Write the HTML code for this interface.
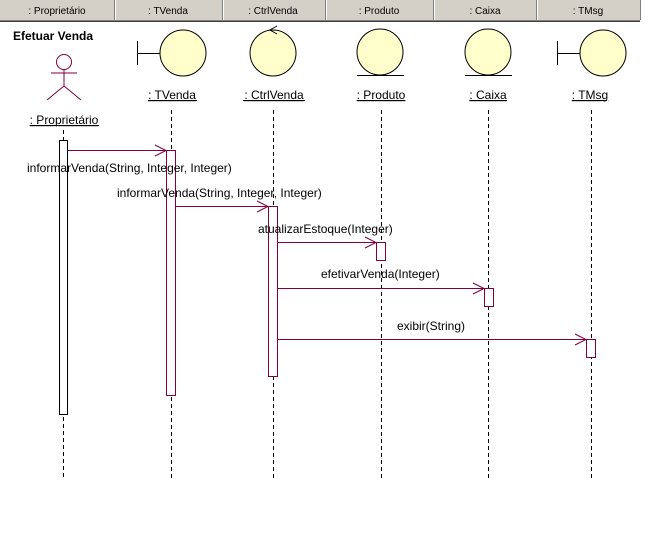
<!DOCTYPE html>
<html><head><meta charset="utf-8"><style>
html,body{margin:0;padding:0;background:#fff;width:668px;height:540px;overflow:hidden}
svg{display:block}
text{font-family:"Liberation Sans",Arial,sans-serif}
</style></head><body>
<svg width="668" height="540" viewBox="0 0 668 540" xmlns="http://www.w3.org/2000/svg">
<!-- header tabs -->
<rect x="0" y="0" width="640" height="20" fill="#d4d0c8"/>
<line x1="0" y1="20.5" x2="640" y2="20.5" stroke="#808080"/>
<line x1="0" y1="21.5" x2="640" y2="21.5" stroke="#404040"/>
<g stroke="#808080">
<line x1="114.5" y1="0" x2="114.5" y2="20"/><line x1="222.5" y1="0" x2="222.5" y2="20"/>
<line x1="325.5" y1="0" x2="325.5" y2="20"/><line x1="433.5" y1="0" x2="433.5" y2="20"/>
<line x1="536.5" y1="0" x2="536.5" y2="20"/><line x1="640.5" y1="0" x2="640.5" y2="20"/>
</g>
<g stroke="#fff"><line x1="115.5" y1="0" x2="115.5" y2="20"/><line x1="223.5" y1="0" x2="223.5" y2="20"/><line x1="326.5" y1="0" x2="326.5" y2="20"/><line x1="434.5" y1="0" x2="434.5" y2="20"/><line x1="537.5" y1="0" x2="537.5" y2="20"/></g>
<g font-size="10" fill="#000" text-anchor="middle">
<text x="57" y="14">: Proprietário</text><text x="168" y="14">: TVenda</text>
<text x="273" y="14">: CtrlVenda</text><text x="379" y="14">: Produto</text>
<text x="485" y="14">: Caixa</text><text x="588" y="14">: TMsg</text>
</g>
<text x="13" y="40" font-size="12" font-weight="bold">Efetuar Venda</text>
<!-- actor -->
<g stroke="#800040" fill="none" stroke-width="1">
<circle cx="64" cy="62" r="7.5"/>
<line x1="64" y1="70" x2="64" y2="86"/><line x1="51" y1="73" x2="77" y2="73"/>
<line x1="64" y1="86" x2="47" y2="100"/><line x1="64" y1="86" x2="81" y2="100"/>
</g>
<!-- objects -->
<g stroke="#000" fill="#ffffcc">
<line x1="137.5" y1="41" x2="137.5" y2="65" fill="none"/><line x1="137" y1="53.5" x2="160" y2="53.5"/>
<circle cx="183" cy="53" r="23"/>
<circle cx="273" cy="53" r="23"/>
<polyline points="277,26 270,30 277,34" fill="none"/>
<circle cx="380" cy="52" r="23"/>
<line x1="357" y1="75.5" x2="404" y2="75.5"/>
<circle cx="488" cy="52" r="23"/>
<line x1="465" y1="75.5" x2="512" y2="75.5"/>
<line x1="557.5" y1="41" x2="557.5" y2="65" fill="none"/><line x1="557" y1="53.5" x2="580" y2="53.5"/>
<circle cx="603" cy="53" r="23"/>
</g>
<g font-size="12" fill="#000" text-anchor="middle" text-decoration="underline">
<text x="64" y="124">: Proprietário</text><text x="172" y="99">: TVenda</text>
<text x="274" y="99">: CtrlVenda</text><text x="381" y="99">: Produto</text>
<text x="488" y="99">: Caixa</text><text x="590" y="99">: TMsg</text>
</g>
<g stroke="#000" fill="none"><line x1="30" y1="125.5" x2="99" y2="125.5"/><line x1="148" y1="100.5" x2="197" y2="100.5"/><line x1="243" y1="100.5" x2="305" y2="100.5"/><line x1="357" y1="100.5" x2="405" y2="100.5"/><line x1="470" y1="100.5" x2="507" y2="100.5"/><line x1="573" y1="100.5" x2="607" y2="100.5"/></g>
<!-- lifelines -->
<g stroke="#000" stroke-dasharray="4,3">
<line x1="63.5" y1="130" x2="63.5" y2="478"/><line x1="171.5" y1="110" x2="171.5" y2="478"/>
<line x1="273.5" y1="110" x2="273.5" y2="478"/><line x1="381.5" y1="110" x2="381.5" y2="478"/>
<line x1="488.5" y1="110" x2="488.5" y2="478"/><line x1="591.5" y1="110" x2="591.5" y2="478"/>
</g>
<!-- activations -->
<rect x="59.5" y="140.5" width="8" height="274" fill="#fff" stroke="#000"/>
<g fill="#fff" stroke="#800040">
<rect x="166.5" y="150.5" width="9" height="245"/>
<rect x="268.5" y="206.5" width="9" height="170"/>
<rect x="376.5" y="242.5" width="9" height="18"/>
<rect x="484.5" y="288.5" width="9" height="18"/>
<rect x="586.5" y="339.5" width="9" height="18"/>
</g>
<!-- messages -->
<g stroke="#800040" fill="none">
<line x1="68" y1="150.5" x2="166" y2="150.5"/><polyline points="155,145 166,150.5 155,156"/>
<line x1="176" y1="206.5" x2="268" y2="206.5"/><polyline points="257,201 268,206.5 257,212"/>
<line x1="278" y1="242.5" x2="376" y2="242.5"/><polyline points="365,237 376,242.5 365,248"/>
<line x1="278" y1="288.5" x2="484" y2="288.5"/><polyline points="473,283 484,288.5 473,294"/>
<line x1="278" y1="339.5" x2="586" y2="339.5"/><polyline points="575,334 586,339.5 575,345"/>
</g>
<g font-size="12" fill="#000">
<text x="27" y="172">informarVenda(String, Integer, Integer)</text>
<text x="117" y="197">informarVenda(String, Integer, Integer)</text>
<text x="258" y="233">atualizarEstoque(Integer)</text>
<text x="321" y="278">efetivarVenda(Integer)</text>
<text x="397" y="330">exibir(String)</text>
</g>
</svg>
</body></html>
